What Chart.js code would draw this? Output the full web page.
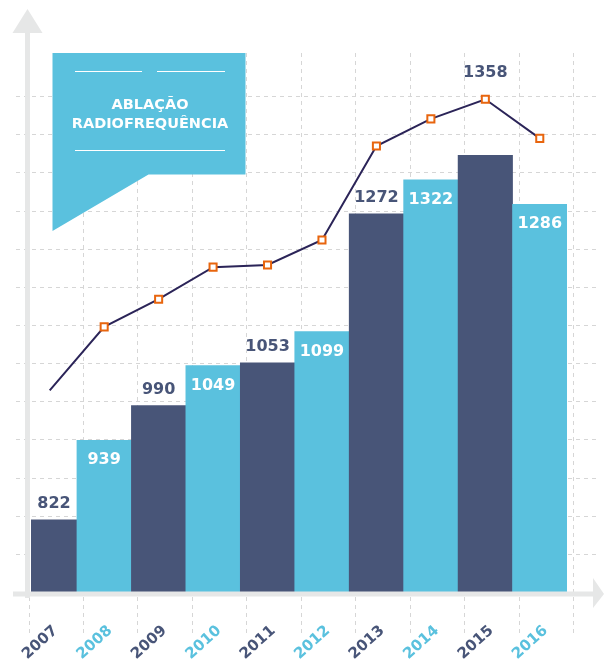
<!DOCTYPE html>
<html><head><meta charset="utf-8">
<script src="https://cdn.jsdelivr.net/npm/chart.js@4"></script>
<style>html,body{margin:0;padding:0;background:#fff}#wrap{width:604px;height:662px;position:relative}</style>
</head><body><div id="wrap"><canvas id="c" width="604" height="662"></canvas></div>
<script>
// ---- data ----
const years = ['2007','2008','2009','2010','2011','2012','2013','2014','2015','2016'];
const procedures = [822, 939, 990, 1049, 1053, 1099, 1272, 1322, 1358, 1286];
const barRange = [716, 1501];
const lineRange = [451, 1434];
const titleLines = ['ABLAÇÃO', 'RADIOFREQUÊNCIA'];

// ---- style ----
const DARK = '#485578', LIGHT = '#5ac1de', AXIS = '#e6e7e7', GRID = '#d6d6d6';
const LINE = '#2b2458', MARK = '#e8650e';
const FONT = '"DejaVu Sans", sans-serif';
const colorAt = i => (i % 2 === 0 ? DARK : LIGHT);
const CLIP = 8.5;

const decor = {
  id: 'decor',
  beforeDatasetsDraw(chart) {
    const {ctx, chartArea: a, scales: {x, g}} = chart;
    ctx.save();
    ctx.strokeStyle = GRID; ctx.lineWidth = 1; ctx.setLineDash([4, 4]);
    for (let k = 1; k <= 13; k++) {
      const y = Math.round(g.getPixelForValue(k)) + 0.5;
      ctx.beginPath(); ctx.moveTo(16, y); ctx.lineTo(600, y); ctx.stroke();
    }
    const step = x.getPixelForValue(1) - x.getPixelForValue(0);
    for (let i = 0; i <= years.length; i++) {
      const xx = Math.round(x.getPixelForValue(0) - step / 2 + i * step + 6) + 0.5;
      ctx.beginPath(); ctx.moveTo(xx, 53); ctx.lineTo(xx, 636); ctx.stroke();
    }
    ctx.restore();
  },
  afterDatasetsDraw(chart) {
    const {ctx, chartArea: a} = chart;
    ctx.save();
    // axes with arrows
    ctx.fillStyle = AXIS;
    const ax = a.left + 2.5;
    ctx.fillRect(ax, 31, 5, a.bottom + 6 - 31);
    ctx.beginPath(); ctx.moveTo(ax - 12.5, 33); ctx.lineTo(ax + 17.5, 33); ctx.lineTo(ax + 2.5, 9); ctx.closePath(); ctx.fill();
    const ay = a.bottom - 0.5;
    ctx.fillRect(13, ay, 581, 5);
    ctx.beginPath(); ctx.moveTo(593, ay - 13.5); ctx.lineTo(593, ay + 16.5); ctx.lineTo(604, ay + 2.5); ctx.closePath(); ctx.fill();

    // value labels
    const bars = chart.getDatasetMeta(0).data;
    const pts = chart.getDatasetMeta(1).data;
    const maxV = Math.max(...procedures);
    ctx.font = 'bold 16px ' + FONT;
    ctx.textAlign = 'center'; ctx.textBaseline = 'middle';
    bars.forEach((el, i) => {
      const l = Math.max(el.x - el.width / 2, a.left + CLIP), r = el.x + el.width / 2;
      const cx = (l + r) / 2;
      let y, col;
      if (i % 2 === 0) {
        col = DARK;
        y = procedures[i] === maxV ? pts[i].y - 26 : el.y - 16;
      } else {
        col = '#ffffff';
        y = el.y + 20;
      }
      ctx.fillStyle = col;
      ctx.fillText(String(procedures[i]), cx, y);
    });

    // callout box
    ctx.fillStyle = LIGHT;
    ctx.beginPath();
    ctx.moveTo(52.5, 53); ctx.lineTo(245.5, 53); ctx.lineTo(245.5, 174.5);
    ctx.lineTo(148.5, 174.5); ctx.lineTo(52.5, 231); ctx.closePath(); ctx.fill();
    ctx.strokeStyle = '#ffffff'; ctx.lineWidth = 1;
    [[75, 142, 71.5], [157, 225, 71.5], [75, 225, 150.5]].forEach(([x1, x2, y]) => {
      ctx.beginPath(); ctx.moveTo(x1, y); ctx.lineTo(x2, y); ctx.stroke();
    });
    ctx.fillStyle = '#ffffff';
    ctx.font = 'bold 14.5px ' + FONT;
    ctx.textAlign = 'center'; ctx.textBaseline = 'alphabetic';
    ctx.fillText(titleLines[0], 150, 108.5);
    ctx.fillText(titleLines[1], 150, 128);
    ctx.restore();
  }
};

new Chart(document.getElementById('c'), {
  data: {
    labels: years,
    datasets: [
      {
        type: 'bar', data: procedures, yAxisID: 'y', order: 2,
        backgroundColor: years.map((_, i) => colorAt(i)), borderWidth: 0,
        barPercentage: 1, categoryPercentage: 1,
        clip: {left: -CLIP, top: false, right: 0, bottom: 0}
      },
      {
        type: 'line', data: procedures, yAxisID: 'y2', order: 1,
        borderColor: LINE, borderWidth: 2, tension: 0, fill: false,
        pointStyle: 'rect',
        pointRadius: c => (c.dataIndex === 0 ? 0 : 5),
        pointBorderColor: MARK, pointBackgroundColor: '#ffffff', pointBorderWidth: 2,
        clip: false
      }
    ]
  },
  options: {
    responsive: false, animation: false, devicePixelRatio: 1,
    layout: {padding: {left: 22.5, right: 37, top: 58, bottom: 0}},
    plugins: {legend: {display: false}, tooltip: {enabled: false}},
    scales: {
      x: {
        type: 'category', offset: true,
        grid: {display: false, drawTicks: false, tickLength: 0},
        border: {display: false},
        ticks: {
          color: c => colorAt(c.index),
          font: {family: FONT, weight: 'bold', size: 15},
          minRotation: 42, maxRotation: 42, autoSkip: false,
          padding: 30, labelOffset: 6
        },
        afterFit: s => { s.height = 70; s.paddingLeft = 0; s.paddingRight = 0; }
      },
      y: {display: false, position: 'left', min: barRange[0], max: barRange[1]},
      y2: {display: false, position: 'right', min: lineRange[0], max: lineRange[1]},
      g: {display: false, type: 'linear', axis: 'y', position: 'left', min: 0, max: 14}
    }
  },
  plugins: [decor]
});
</script>
</body></html>
